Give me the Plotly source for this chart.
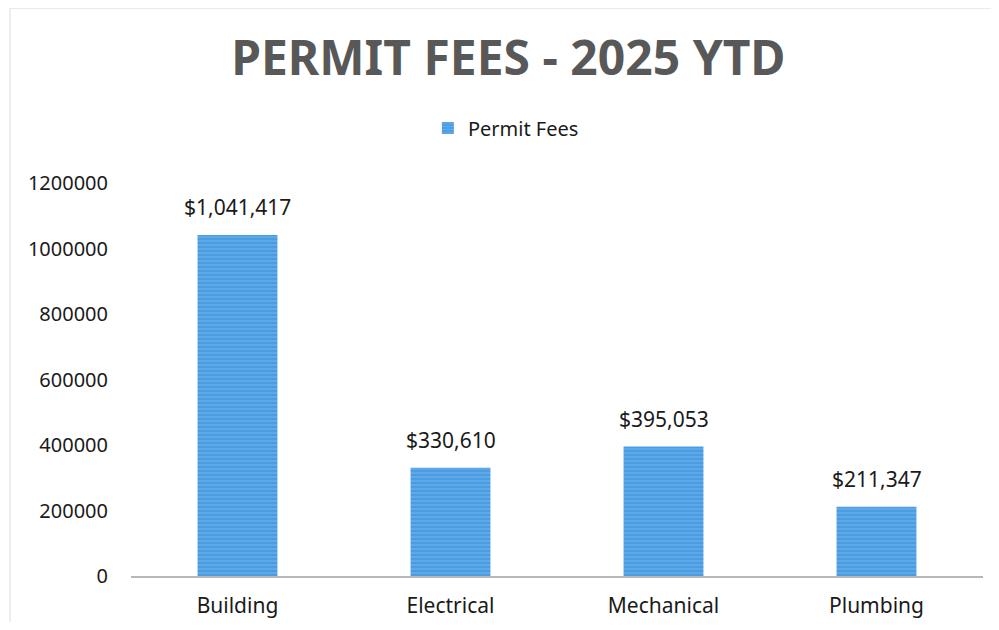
import plotly.graph_objects as go

categories = ["Building", "Electrical", "Mechanical", "Plumbing"]
fees = [1041417, 330610, 395053, 211347]
tick_vals = [0, 200000, 400000, 600000, 800000, 1000000, 1200000]
tick_text = ["0", "200000", "400000", "600000", "800000", "1000000", "1200000"]
series_name = "Permit Fees"
title_text = "PERMIT FEES - 2025 YTD"

FONT = "Noto Sans"

fig = go.Figure()
fig.add_trace(go.Bar(
    x=categories, y=fees, name=series_name,
    marker=dict(color="#4b9de3", line=dict(width=0),
                pattern=dict(shape="-", fgcolor="#8cc3f0", size=4, solidity=0.3)),
    showlegend=True,
))

for c, v in zip(categories, fees):
    fig.add_annotation(x=c, y=v, text=f"${v:,}", showarrow=False,
                       yanchor="bottom", yshift=12,
                       font=dict(family=FONT, size=21, color="#1a1a1a"))

fig.update_layout(
    width=983, height=614,
    paper_bgcolor="white", plot_bgcolor="white",
    margin=dict(l=123, r=8, t=175, b=46),
    bargap=0.625,
    title=dict(text=f"<b>{title_text}</b>", x=0.509, xanchor="center",
               y=0.918, yanchor="middle",
               font=dict(family=FONT, size=48, color="#585858")),
    legend=dict(orientation="h", x=0.44, xanchor="center", y=1.14, yanchor="middle",
                font=dict(family=FONT, size=20, color="#1a1a1a"),
                itemwidth=30),
    xaxis=dict(showline=True, linecolor="#b8b8b8", linewidth=2, automargin=False,
               tickfont=dict(family=FONT, size=21, color="#1a1a1a"),
               ticks="", ticklabelstandoff=10),
    yaxis=dict(range=[0, 1200000], tickvals=tick_vals, ticktext=tick_text,
               showgrid=False, zeroline=False, showline=False, automargin=False,
               tickfont=dict(family=FONT, size=20, color="#1a1a1a"),
               ticklabelstandoff=22),
    font=dict(family=FONT),
)

fig.add_shape(type="rect", xref="paper", yref="paper", x0=-0.142, x1=1.02, y0=-0.2, y1=1.445,
              line=dict(color="#dddddd", width=1), layer="below")

fig.write_html("out.html")
